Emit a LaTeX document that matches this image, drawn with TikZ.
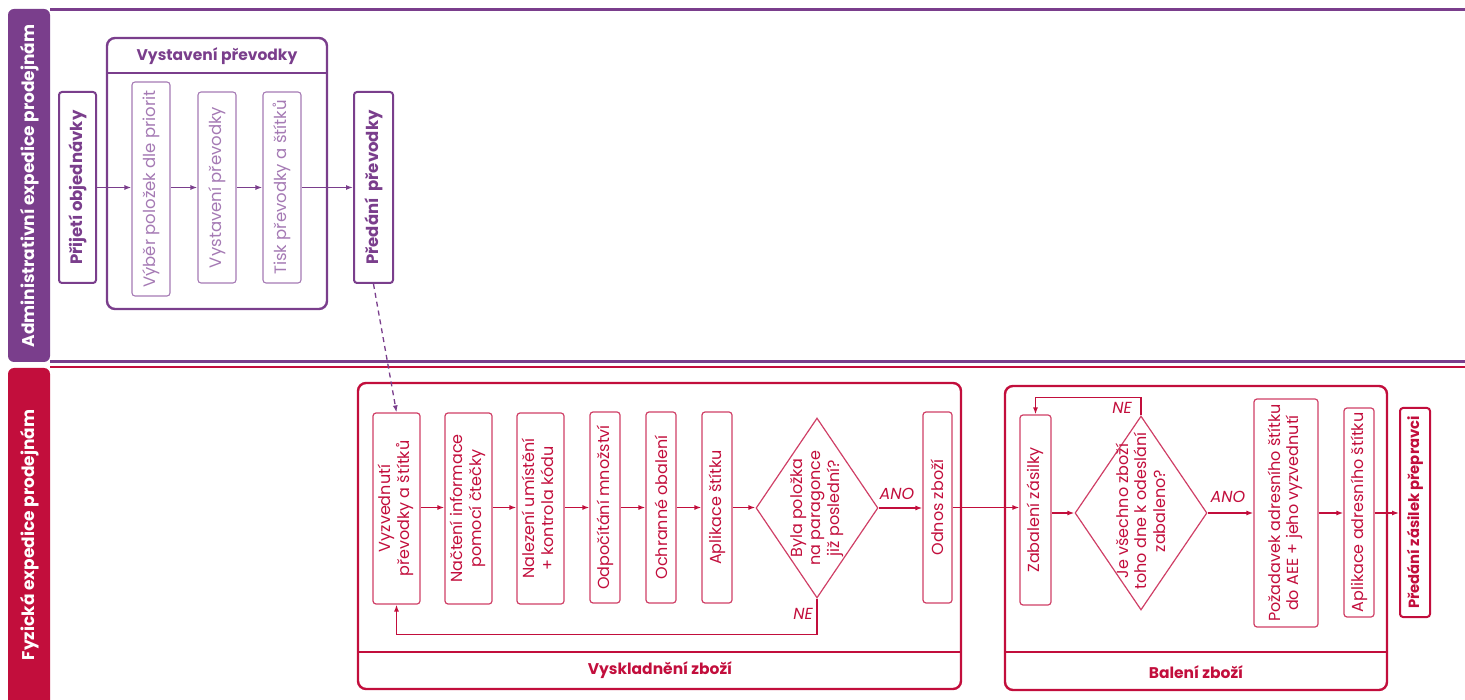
\documentclass[tikz,border=0pt]{standalone}
\usepackage{fontspec}
\setmainfont{Poppins}
\usetikzlibrary{shapes.geometric,arrows.meta}
\definecolor{pur}{HTML}{7A3E8C}
\definecolor{lpur}{HTML}{A57AB4}
\definecolor{redc}{HTML}{C20E3C}
\definecolor{lred}{HTML}{CF3F66}
\begin{document}
\begin{tikzpicture}[x=1pt,y=-1pt,
  pbox/.style={draw=pur, line width=2pt, rounded corners=3pt, inner sep=0pt, text=pur, font=\bfseries\fontsize{16.5}{19}\selectfont},
  pibox/.style={draw=lpur, line width=1.1pt, rounded corners=3pt, inner sep=0pt, text=lpur, font=\fontsize{16.5}{19}\selectfont},
  rbox/.style={draw=lred, line width=1.2pt, rounded corners=3pt, inner sep=0pt, text=redc, font=\fontsize{16}{18.5}\selectfont},
  rbbox/.style={draw=redc, line width=2pt, rounded corners=3pt, inner sep=0pt, text=redc, font=\bfseries\fontsize{14.8}{17}\selectfont},
  dia/.style={draw=lred, line width=1.2pt, diamond, inner sep=0pt},
  ptitle/.style={text=pur, font=\bfseries\fontsize{15.5}{18}\selectfont},
  rtitle/.style={text=redc, font=\bfseries\fontsize{15.5}{18}\selectfont},
  lbl/.style={text=redc, font=\itshape\fontsize{16}{18}\selectfont},
  head/.style={text=white, font=\bfseries\fontsize{17}{20}\selectfont, rotate=90},
  parr/.style={draw=pur, line width=1.3pt, -{Latex[length=7pt,width=5pt]}},
  rarr/.style={draw=redc, line width=1.3pt, -{Latex[length=7pt,width=5pt]}},
  grp/.style={line width=2.4pt, rounded corners=8pt},
]
\useasboundingbox (0,0) rectangle (1465,700);
% lanes
\fill[pur, rounded corners=6pt] (8,9) rectangle (50,362);
\fill[redc, rounded corners=6pt] (8,368) rectangle (50,712);
\draw[pur, line width=2.8pt] (50,9.5) -- (1465,9.5);
\draw[pur, line width=2.4pt] (50,361.5) -- (1465,361.5);
\draw[redc, line width=2.8pt] (50,367) -- (1465,367);
\node[head] (h1) at (30,186) {Administrativní expedice prodejnám};
\node[head] (h2) at (30,535) {Fyzická expedice prodejnám};

% top group
\draw[grp, draw=pur] (107,38) rectangle (327,309);
\draw[pur, line width=2.4pt] (107,73) -- (327,73);
\node[ptitle] (g1) at (217,56) {Vystavení převodky};

\node[pbox, minimum width=37pt, minimum height=191pt] (p1) at (77.5,187.5) {\rotatebox{90}{Přijetí objednávky}};
\node[pibox, minimum width=38pt, minimum height=214pt] (p2) at (151,189) {\rotatebox{90}{Výběr položek dle priorit}};
\node[pibox, minimum width=38pt, minimum height=191pt] (p3) at (217,187.5) {\rotatebox{90}{Vystavení převodky}};
\node[pibox, minimum width=38pt, minimum height=191pt] (p4) at (282,187.5) {\rotatebox{90}{Tisk převodky a štítků}};
\node[pbox, minimum width=39pt, minimum height=191pt] (p5) at (373.5,187.5) {\rotatebox{90}{Předání\ \ převodky}};

\draw[parr] (p1.east) -- (p1.east -| p2.west);
\draw[parr] (p2.east |- p1.east) -- (p1.east -| p3.west);
\draw[parr] (p3.east) -- (p4.west);
\draw[parr] (p4.east) -- (p5.west);

% bottom group 1
\draw[grp, draw=redc] (358,383) rectangle (961,689);
\draw[redc, line width=2.4pt] (358,652) -- (961,652);
\node[rtitle] (g2) at (660,670) {Vyskladnění zboží};

\node[rbox, minimum width=47pt, minimum height=191pt] (v1) at (396.5,508.5) {\rotatebox{90}{\begin{tabular}{@{}c@{}}Vyzvednutí\\převodky a štítků\end{tabular}}};
\node[rbox, minimum width=47pt, minimum height=191pt] (v2) at (468.5,508.5) {\rotatebox{90}{\begin{tabular}{@{}c@{}}Načtení informace\\pomocí čtečky\end{tabular}}};
\node[rbox, minimum width=47pt, minimum height=191pt] (v3) at (540.5,508.5) {\rotatebox{90}{\begin{tabular}{@{}c@{}}Nalezení umístění\\+ kontrola kódu\end{tabular}}};
\node[rbox, minimum width=30pt, minimum height=191pt] (v4) at (605,507.5) {\rotatebox{90}{Odpočítání množství}};
\node[rbox, minimum width=30pt, minimum height=191pt] (v5) at (661,507.5) {\rotatebox{90}{Ochranné obalení}};
\node[rbox, minimum width=30pt, minimum height=191pt] (v6) at (717,507.5) {\rotatebox{90}{Aplikace štítku}};
\node[dia, minimum width=122pt, minimum height=180pt] (d1) at (817,508) {};
\node[text=redc, font=\fontsize{16}{18.5}\selectfont] (d1t) at (817,508) {\rotatebox{90}{\begin{tabular}{@{}c@{}}Byla položka\\na paragonce\\již poslední?\end{tabular}}};
\node[rbox, minimum width=29pt, minimum height=191pt] (v7) at (937.5,507.5) {\rotatebox{90}{Odnos zboží}};

\draw[rarr] (v1.east |- v4.east) -- (v4.east -| v2.west);
\draw[rarr] (v2.east |- v4.east) -- (v4.east -| v3.west);
\draw[rarr] (v3.east |- v4.east) -- (v4.west);
\draw[rarr] (v4.east) -- (v5.west);
\draw[rarr] (v5.east) -- (v6.west);
\draw[rarr] (v6.east) -- (v6.east -| d1.west);
\draw[rarr] (d1.east) -- (d1.east -| v7.west);
\node[lbl] (ano1) at (897,494) {ANO};
\draw[rarr] (d1.south) -- ++(0,36) -| (v1.south);
\node[lbl] (ne1) at (803,614) {NE};

\draw[parr, dash pattern=on 5pt off 4pt] (p5.south) -- (v1.north);

% bottom group 2
\draw[grp, draw=redc] (1005,386) rectangle (1387,690);
\draw[redc, line width=2.4pt] (1005,652) -- (1387,652);
\node[rtitle] (g3) at (1196,672) {Balení zboží};

\node[rbox, minimum width=31pt, minimum height=190pt] (z1) at (1035.5,510) {\rotatebox{90}{Zabalení zásilky}};
\node[dia, minimum width=132pt, minimum height=194pt] (d2) at (1141,513) {};
\node[text=redc, font=\fontsize{16}{18.5}\selectfont] (d2t) at (1143,511) {\rotatebox{90}{\begin{tabular}{@{}c@{}}Je všechno zboží\\toho dne k odeslání\\zabaleno?\end{tabular}}};
\node[rbox, minimum width=64pt, minimum height=228pt] (z2) at (1286,513) {\rotatebox{90}{\begin{tabular}{@{}c@{}}Požadavek adresního štítku\\do AEE + jeho vyzvednutí\end{tabular}}};
\node[rbox, minimum width=30pt, minimum height=209pt] (z3) at (1359,512.5) {\rotatebox{90}{Aplikace adresního štítku}};
\node[rbbox, minimum width=30pt, minimum height=209pt] (z4) at (1415,512.5) {\rotatebox{90}{Předání zásilek přepravci}};

\draw[rarr] (v7.east) -- (v7.east -| z1.west);
\draw[rarr] (z1.east |- d2.west) -- (d2.west);
\draw[rarr] (d2.east) -- (d2.east -| z2.west);
\draw[rarr] (z2.east |- d2.east) -- (d2.east -| z3.west);
\draw[rarr] (z3.east |- d2.east) -- (d2.east -| z4.west);
\node[lbl] (ano2) at (1228,497) {ANO};
\draw[rarr] (d2.north) -- ++(0,-18) -| (z1.north);
\node[lbl] (ne2) at (1122,408) {NE};
\end{tikzpicture}
\end{document}
